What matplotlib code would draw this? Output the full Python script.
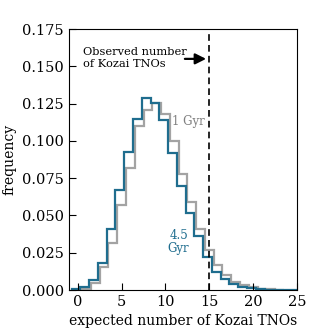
import numpy as np
import matplotlib
matplotlib.use("Agg")
import matplotlib.pyplot as plt

plt.rcParams['font.family'] = ['DejaVu Serif']

# histogram frequencies (unit-width bins)
start_1gyr = -0.5
freq_1gyr = [0.0003, 0.0009, 0.0045, 0.0152, 0.0313, 0.057, 0.082, 0.110,
             0.1207, 0.1252, 0.118, 0.100, 0.078, 0.0592, 0.041, 0.0268,
             0.0168, 0.010, 0.0056, 0.0034, 0.0018, 0.0009, 0.0004, 0.0002]

start_45gyr = -0.7
freq_45gyr = [0.0005, 0.002, 0.0065, 0.018, 0.041, 0.067, 0.0925, 0.115,
              0.129, 0.1252, 0.114, 0.092, 0.070, 0.0514, 0.0363, 0.022,
              0.0123, 0.0072, 0.004, 0.0022, 0.0011, 0.0005, 0.0003, 0.0002,
              0.0001, 0.0001]

edges_1gyr = start_1gyr + np.arange(len(freq_1gyr) + 1)
edges_45gyr = start_45gyr + np.arange(len(freq_45gyr) + 1)

observed = 15
blue = "#1f6d8e"
grey = "#a3a3a3"

fig = plt.figure(figsize=(3.3, 3.3), dpi=100)
ax = fig.add_axes([0.209, 0.121, 0.691, 0.791])

ax.stairs(freq_1gyr, edges_1gyr, color=grey, lw=1.6)
ax.stairs(freq_45gyr, edges_45gyr, color=blue, lw=1.6)
ax.axvline(observed, color="black", ls=(0, (4, 2.5)), lw=1.2)

ax.annotate("", xy=(observed - 0.05, 0.155), xytext=(11.9, 0.155),
            arrowprops=dict(arrowstyle="-|>", color="black", lw=1.6,
                            mutation_scale=16))
ax.text(0.6, 0.1555, "Observed number\nof Kozai TNOs", fontsize=8.2,
        va="center", ha="left", linespacing=1.2)
ax.text(10.8, 0.1127, "1 Gyr", fontsize=8.5, color="#808080",
        va="center", ha="left")
ax.text(11.5, 0.0325, "4.5\nGyr", fontsize=8.5, color=blue,
        va="center", ha="center", linespacing=1.0)

ax.set_xlim(-1, 25)
ax.set_ylim(0, 0.175)
ax.set_xticks([0, 5, 10, 15, 20, 25])
ax.set_yticks([0, 0.025, 0.05, 0.075, 0.1, 0.125, 0.15, 0.175])
ax.set_yticklabels(["0.000", "0.025", "0.050", "0.075", "0.100", "0.125",
                    "0.150", "0.175"])
ax.tick_params(direction="in", length=5, labelsize=10.5, width=0.8)
ax.set_xlabel("expected number of Kozai TNOs", fontsize=10)
ax.set_ylabel("frequency", fontsize=10)

fig.savefig("out.png", dpi=100)
